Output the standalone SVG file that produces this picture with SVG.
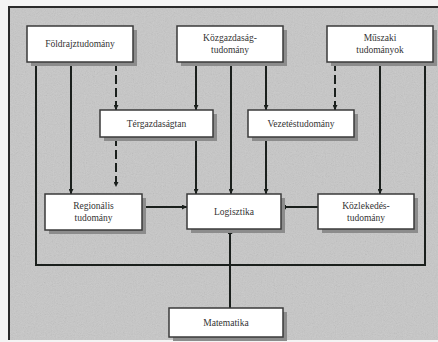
<svg xmlns="http://www.w3.org/2000/svg" width="438" height="342" viewBox="0 0 438 342">
<defs>
<marker id="ah" viewBox="0 0 10 10" refX="10" refY="5" markerWidth="5" markerHeight="5" orient="auto" markerUnits="userSpaceOnUse"><path d="M0,0 L10,5 L0,10 z" fill="#1a1f1c"/></marker>
<filter id="noise" x="0" y="0" width="100%" height="100%"><feTurbulence type="fractalNoise" baseFrequency="0.9" numOctaves="2" seed="3" result="n"/><feColorMatrix type="saturate" values="0" in="n" result="g"/><feComponentTransfer in="g"><feFuncA type="linear" slope="0.25"/></feComponentTransfer><feComposite operator="in" in2="SourceGraphic"/></filter>
</defs>
<style>
.bg{fill:#c7c7c7}
.frame{fill:none;stroke:#2a2a2a;stroke-width:2}
.sh{fill:#8c8c8c}
.box{fill:#ffffff;stroke:#3a3a3a;stroke-width:1.5}
.t{font-family:"Liberation Serif","DejaVu Serif",serif;font-size:9.5px;fill:#333;text-anchor:middle}
.c{fill:none;stroke:#1a1f1c;stroke-width:2}
.a{marker-end:url(#ah)}
.d{stroke-dasharray:9 4}
</style>
<rect x="0" y="0" width="438" height="342" fill="#f4f4f4"/>
<rect class="bg" x="9" y="7" width="429" height="333"/>
<rect x="9" y="7" width="429" height="333" fill="#7a7a7a" filter="url(#noise)"/>
<path class="frame" d="M438,7 L9,7 L9,340"/>
<g id="connectors">
<polyline class="c" points="36,62 36,265 425,265 425,62"/>
<line class="c a" x1="71" y1="62" x2="71" y2="194"/>
<line class="c a d" x1="116" y1="62" x2="116" y2="110"/>
<line class="c a d" x1="116" y1="137" x2="116" y2="187"/>
<line class="c a" x1="196" y1="62" x2="196" y2="110"/>
<line class="c a" x1="196" y1="137" x2="196" y2="194"/>
<line class="c a" x1="231" y1="62" x2="231" y2="194"/>
<line class="c a" x1="266" y1="62" x2="266" y2="110"/>
<line class="c a" x1="266" y1="137" x2="266" y2="194"/>
<line class="c a d" x1="335" y1="62" x2="335" y2="110"/>
<line class="c a" x1="380" y1="62" x2="380" y2="194"/>
<line class="c a" x1="142" y1="207" x2="187" y2="207"/>
<line class="c a" x1="318" y1="207" x2="281" y2="207"/>
<line class="c a" x1="230" y1="308" x2="230" y2="229"/>
</g>
<g id="foldrajztudomany">
<rect class="sh" x="31" y="30" width="106" height="36"/>
<rect class="box" x="27" y="26" width="106" height="36"/>
<text class="t" x="80" y="47">Földrajztudomány</text>
</g>
<g id="kozgazdasagtudomany">
<rect class="sh" x="181" y="30" width="106" height="36"/>
<rect class="box" x="177" y="26" width="106" height="36"/>
<text class="t" x="230" y="41">Közgazdaság-</text>
<text class="t" x="230" y="53">tudomány</text>
</g>
<g id="muszaki">
<rect class="sh" x="331" y="30" width="106" height="36"/>
<rect class="box" x="327" y="26" width="106" height="36"/>
<text class="t" x="380" y="41">Műszaki</text>
<text class="t" x="380" y="53">tudományok</text>
</g>
<g id="tergazdasagtan">
<rect class="sh" x="104" y="114" width="113" height="27"/>
<rect class="box" x="100" y="110" width="113" height="27"/>
<text class="t" x="156.5" y="127">Térgazdaságtan</text>
</g>
<g id="vezetestudomany">
<rect class="sh" x="252" y="114" width="106" height="27"/>
<rect class="box" x="248" y="110" width="106" height="27"/>
<text class="t" x="301" y="127">Vezetéstudomány</text>
</g>
<g id="regionalis">
<rect class="sh" x="49" y="198" width="97" height="36"/>
<rect class="box" x="45" y="194" width="97" height="36"/>
<text class="t" x="93.5" y="209">Regionális</text>
<text class="t" x="93.5" y="221">tudomány</text>
</g>
<g id="logisztika">
<rect class="sh" x="191" y="198" width="94" height="35"/>
<rect class="box" x="187" y="194" width="94" height="35"/>
<text class="t" x="234" y="215">Logisztika</text>
</g>
<g id="kozlekedes">
<rect class="sh" x="322" y="198" width="96" height="35"/>
<rect class="box" x="318" y="194" width="96" height="35"/>
<text class="t" x="366" y="209">Közlekedés-</text>
<text class="t" x="366" y="221">tudomány</text>
</g>
<g id="matematika">
<rect class="sh" x="173" y="312" width="114" height="29"/>
<rect class="box" x="169" y="308" width="114" height="29"/>
<text class="t" x="226" y="326">Matematika</text>
</g>
</svg>
